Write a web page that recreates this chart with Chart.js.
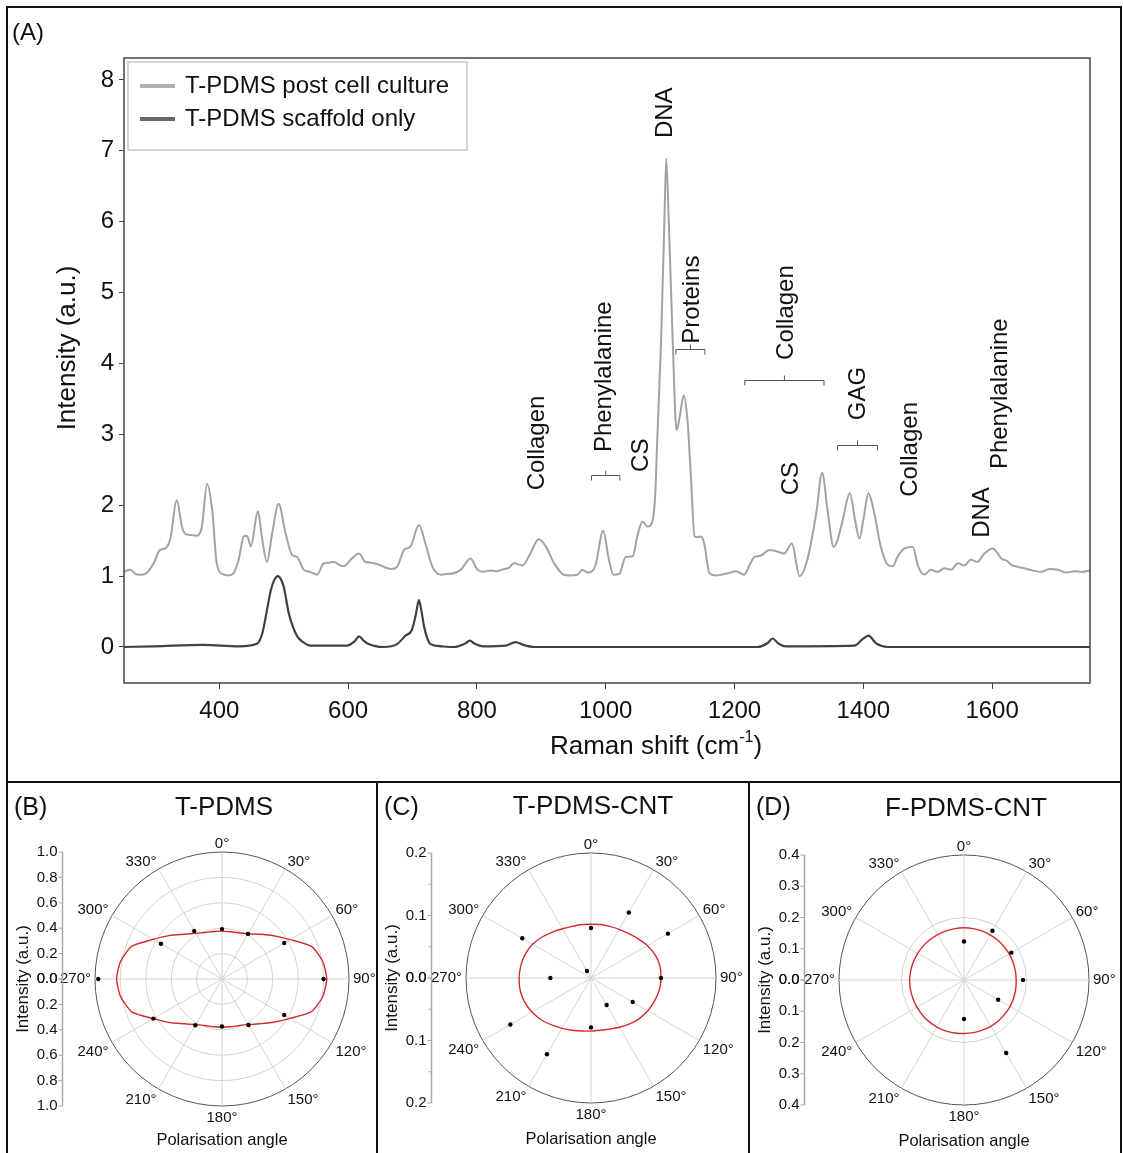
<!DOCTYPE html>
<html>
<head>
<meta charset="utf-8">
<title>Raman spectra and polarisation</title>
<script src="https://cdn.jsdelivr.net/npm/chart.js@4.4.1/dist/chart.umd.min.js"></script>
<style>
  body { margin: 0; background: #fff; }
  #page { position: relative; width: 1123px; height: 1153px; overflow: hidden; background: #fff; }
  canvas { position: absolute; }
  .rule { position: absolute; background: #111; }
</style>
</head>
<body>
<div id="page">
  <canvas id="ramanChart" width="1112" height="772" style="left:8px;top:9px"></canvas>
  <canvas id="polarB" width="367" height="369" style="left:9px;top:784px"></canvas>
  <canvas id="polarC" width="369" height="369" style="left:379px;top:784px"></canvas>
  <canvas id="polarD" width="370" height="369" style="left:751px;top:784px"></canvas>
  <div class="rule" style="left:6px;top:6px;width:1116px;height:2px"></div>
  <div class="rule" style="left:6px;top:6px;width:2px;height:1147px"></div>
  <div class="rule" style="left:1120px;top:6px;width:2px;height:1147px"></div>
  <div class="rule" style="left:6px;top:781px;width:1116px;height:2px"></div>
  <div class="rule" style="left:376px;top:781px;width:2px;height:372px"></div>
  <div class="rule" style="left:748px;top:781px;width:2px;height:372px"></div>
</div>
<script>
const FONT = "'Liberation Sans', Arial, Helvetica, sans-serif";
Chart.defaults.font.family = FONT;
Chart.defaults.color = '#111';

// (A) Raman spectra
const shiftCulture = [
  251, 262, 270, 277, 285, 298, 308, 316, 324, 334,
  342, 347, 356, 365, 373, 381, 389, 396, 407, 415,
  422, 430, 438, 443, 449, 460, 466, 474, 482, 492,
  503, 513, 521, 531, 541, 552, 562, 570, 578, 586,
  593, 606, 617, 627, 636, 645, 653, 661, 668, 676,
  687, 697, 710, 720, 731, 744, 754, 764, 775, 790,
  801, 811, 821, 831, 842, 850, 857, 871, 883, 896,
  907, 920, 935, 945, 956, 964, 972, 984, 996, 1005,
  1012, 1021, 1031, 1042, 1049, 1057, 1065, 1073, 1077, 1080,
  1086, 1091, 1094, 1098, 1104, 1110, 1115, 1121, 1127, 1132,
  1138, 1143, 1148, 1153, 1161, 1170, 1179, 1190, 1202, 1215,
  1223, 1231, 1241, 1254, 1265, 1277, 1289, 1301, 1313, 1327,
  1336, 1345, 1354, 1360, 1368, 1379, 1388, 1394, 1400, 1408,
  1417, 1426, 1438, 1446, 1453, 1464, 1477, 1485, 1495, 1505,
  1515, 1526, 1536, 1547, 1557, 1567, 1577, 1588, 1601, 1608,
  1614, 1622, 1630, 1640, 1650, 1663, 1676, 1689, 1702, 1715,
  1728, 1740, 1752
];
const intensityCulture = [
  1.06, 1.09, 1.03, 1.02, 1.03, 1.18, 1.37, 1.39, 1.53, 2.07,
  1.70, 1.60, 1.58, 1.57, 1.70, 2.30, 1.93, 1.18, 1.02, 1.01,
  1.04, 1.23, 1.56, 1.57, 1.42, 1.92, 1.56, 1.20, 1.60, 2.02,
  1.60, 1.30, 1.27, 1.09, 1.06, 1.02, 1.18, 1.19, 1.20, 1.16,
  1.14, 1.25, 1.32, 1.20, 1.19, 1.17, 1.14, 1.11, 1.10, 1.13,
  1.37, 1.42, 1.72, 1.46, 1.13, 1.02, 1.03, 1.04, 1.09, 1.25,
  1.09, 1.06, 1.08, 1.07, 1.10, 1.12, 1.18, 1.15, 1.32, 1.52,
  1.42, 1.18, 1.02, 1.01, 1.02, 1.09, 1.05, 1.15, 1.64, 1.23,
  1.02, 1.03, 1.27, 1.28, 1.56, 1.77, 1.70, 1.79, 2.17, 2.92,
  4.33, 5.98, 6.89, 5.98, 4.33, 3.06, 3.25, 3.55, 3.20, 2.45,
  1.56, 1.55, 1.56, 1.46, 1.04, 1.01, 1.02, 1.04, 1.07, 1.02,
  1.15, 1.27, 1.29, 1.37, 1.35, 1.32, 1.46, 1.00, 1.23, 1.89,
  2.46, 1.89, 1.41, 1.51, 1.79, 2.17, 1.75, 1.53, 1.79, 2.17,
  1.89, 1.46, 1.16, 1.14, 1.27, 1.39, 1.41, 1.14, 1.02, 1.09,
  1.06, 1.11, 1.09, 1.18, 1.15, 1.23, 1.20, 1.32, 1.39, 1.33,
  1.25, 1.22, 1.16, 1.13, 1.11, 1.08, 1.06, 1.10, 1.09, 1.05,
  1.07, 1.06, 1.08
];
const shiftScaffold = [
  251, 300, 375, 430, 459, 467, 474, 480, 485, 491,
  496, 500, 508, 515, 521, 530, 541, 598, 610, 617,
  624, 630, 655, 676, 689, 699, 705, 710, 714, 718,
  723, 728, 745, 764, 782, 789, 796, 810, 845, 860,
  872, 890, 1236, 1252, 1259, 1268, 1280, 1386, 1399, 1408,
  1420, 1438, 1752
];
const intensityScaffold = [
  0.00, 0.01, 0.03, 0.01, 0.05, 0.20, 0.52, 0.80, 0.94, 1.00,
  0.95, 0.85, 0.47, 0.27, 0.15, 0.07, 0.02, 0.02, 0.08, 0.15,
  0.09, 0.05, 0.00, 0.04, 0.16, 0.24, 0.45, 0.66, 0.50, 0.29,
  0.12, 0.04, 0.01, 0.00, 0.05, 0.09, 0.05, 0.01, 0.02, 0.07,
  0.03, 0.00, 0.00, 0.06, 0.12, 0.05, 0.01, 0.02, 0.11, 0.16,
  0.05, 0.00, 0.00
];
const xTicks = [400, 600, 800, 1000, 1200, 1400, 1600];
const yTicks = [0, 1, 2, 3, 4, 5, 6, 7, 8];

// peak assignments (label starts at shift / intensity)
const peakLabels = ['Collagen', 'Phenylalanine', 'CS', 'DNA', 'Proteins', 'Collagen', 'CS', 'GAG', 'Collagen', 'DNA', 'Phenylalanine'];
const peakShift = [894, 998.5, 1055, 1093, 1134, 1280, 1288, 1392, 1472.6, 1584.5, 1612.5];
const peakLevel = [2.21, 2.75, 2.47, 7.18, 4.28, 4.05, 2.14, 3.20, 2.12, 1.54, 2.51];
const bracketFrom = [978, 1109, 1216, 1360];
const bracketTo = [1022, 1154, 1339, 1422];
const bracketLevel = [2.43, 4.21, 3.77, 2.85];

// (B)-(D) polarisation plots, every 10 degrees
const angleLabels = [
  '0°', '10°', '20°', '30°', '40°', '50°', '60°', '70°', '80°',
  '90°', '100°', '110°', '120°', '130°', '140°', '150°', '160°', '170°',
  '180°', '190°', '200°', '210°', '220°', '230°', '240°', '250°', '260°',
  '270°', '280°', '290°', '300°', '310°', '320°', '330°', '340°', '350°'
];
const fitB = [
  0.377, 0.378, 0.387, 0.41, 0.46, 0.53, 0.62, 0.75, 0.805,
  0.825, 0.805, 0.75, 0.62, 0.53, 0.46, 0.415, 0.39, 0.382,
  0.38, 0.382, 0.39, 0.415, 0.46, 0.535, 0.625, 0.755, 0.81,
  0.83, 0.81, 0.755, 0.625, 0.535, 0.46, 0.415, 0.39, 0.38
];
const dotsB = [
  0.393, null, null, 0.41, null, null, 0.566, null, null,
  0.80, null, null, 0.566, null, null, 0.418, null, null,
  0.374, null, null, 0.42, null, null, 0.624, null, null,
  0.974, null, null, 0.555, null, null, 0.437, null, null
];
const fitC = [
  0.086, 0.087, 0.088, 0.090, 0.093, 0.098, 0.104, 0.109, 0.112,
  0.112, 0.111, 0.108, 0.105, 0.101, 0.096, 0.091, 0.087, 0.085,
  0.085, 0.086, 0.089, 0.093, 0.098, 0.104, 0.109, 0.113, 0.115,
  0.115, 0.114, 0.112, 0.108, 0.102, 0.096, 0.091, 0.088, 0.087
];
const dotsC = [
  0.080, null, null, 0.121, null, null, 0.142, null, null,
  0.112, null, null, 0.077, null, null, 0.050, null, null,
  0.079, null, null, 0.141, null, null, 0.149, null, null,
  0.065, null, null, 0.127, null, null, 0.013, null, null
];
const fitD = [
  0.167, 0.167, 0.167, 0.167, 0.167, 0.167, 0.167, 0.167, 0.167,
  0.167, 0.168, 0.169, 0.170, 0.170, 0.171, 0.171, 0.171, 0.171,
  0.171, 0.172, 0.173, 0.174, 0.174, 0.174, 0.174, 0.174, 0.174,
  0.174, 0.173, 0.172, 0.171, 0.170, 0.169, 0.168, 0.167, 0.167
];
const dotsD = [
  0.123, null, null, 0.182, null, null, 0.175, null, null,
  0.189, null, null, 0.126, null, null, 0.270, null, null,
  0.125, null, null, null, null, null, null, null, null,
  null, null, null, null, null, null, null, null, null
];
const sideTicksB = [0, 0.2, 0.4, 0.6, 0.8, 1.0];
const sideTicksC = [0, 0.1, 0.2];
const sideMinorC = [0.05, 0.15];
const sideTicksD = [0, 0.1, 0.2, 0.3, 0.4];

function points(xs, ys) {
  return xs.map((x, i) => ({ x: x, y: ys[i] }));
}

// frame, legend, peak labels and axis titles for panel A
const ramanDeco = {
  id: 'ramanDeco',
  afterDraw(chart) {
    const { ctx, chartArea: a, scales: { x, y } } = chart;
    ctx.save();
    ctx.strokeStyle = '#444';
    ctx.lineWidth = 1.5;
    ctx.strokeRect(a.left, a.top, a.width, a.height);

    // legend
    ctx.strokeStyle = '#d4d4d4';
    ctx.lineWidth = 2;
    ctx.strokeRect(a.left + 4, a.top + 4, 339, 88);
    ctx.font = '24px ' + FONT;
    ctx.textBaseline = 'middle';
    ctx.textAlign = 'left';
    ctx.fillStyle = '#111';
    chart.data.datasets.forEach((ds, i) => {
      const ly = a.top + 28 + i * 33;
      ctx.strokeStyle = ds.legendColor;
      ctx.lineWidth = 4;
      ctx.beginPath();
      ctx.moveTo(a.left + 16, ly);
      ctx.lineTo(a.left + 51, ly);
      ctx.stroke();
      ctx.fillText(ds.label, a.left + 61, ly);
    });

    // peak assignments
    peakLabels.forEach((t, i) => {
      ctx.save();
      ctx.translate(x.getPixelForValue(peakShift[i]), y.getPixelForValue(peakLevel[i]));
      ctx.rotate(-Math.PI / 2);
      ctx.fillText(t, 0, 0);
      ctx.restore();
    });
    ctx.strokeStyle = '#555';
    ctx.lineWidth = 1;
    bracketFrom.forEach((f, i) => {
      const x1 = x.getPixelForValue(f);
      const x2 = x.getPixelForValue(bracketTo[i]);
      const xm = (x1 + x2) / 2;
      const yb = Math.round(y.getPixelForValue(bracketLevel[i])) + 0.5;
      ctx.beginPath();
      ctx.moveTo(x1, yb + 5);
      ctx.lineTo(x1, yb);
      ctx.lineTo(x2, yb);
      ctx.lineTo(x2, yb + 5);
      ctx.moveTo(xm, yb);
      ctx.lineTo(xm, yb - 5);
      ctx.stroke();
    });

    // axis titles
    ctx.font = '26px ' + FONT;
    ctx.textAlign = 'center';
    ctx.save();
    ctx.translate(a.left - 56, a.top + 290);
    ctx.rotate(-Math.PI / 2);
    ctx.fillText('Intensity (a.u.)', 0, 0);
    ctx.restore();

    const main = 'Raman shift (cm', sup = '-1', end = ')';
    ctx.font = '26px ' + FONT;
    const w1 = ctx.measureText(main).width, w3 = ctx.measureText(end).width;
    ctx.font = '16px ' + FONT;
    const w2 = ctx.measureText(sup).width;
    let tx = a.left + 532 - (w1 + w2 + w3) / 2;
    const ty = a.bottom + 64;
    ctx.textAlign = 'left';
    ctx.font = '26px ' + FONT;
    ctx.fillText(main, tx, ty);
    tx += w1;
    ctx.font = '16px ' + FONT;
    ctx.fillText(sup, tx, ty - 9);
    tx += w2;
    ctx.font = '26px ' + FONT;
    ctx.fillText(end, tx, ty);

    ctx.font = '24px ' + FONT;
    ctx.fillText('(A)', 4, 24);
    ctx.restore();
  }
};

new Chart(document.getElementById('ramanChart'), {
  type: 'line',
  data: {
    datasets: [
      { label: 'T-PDMS post cell culture', data: points(shiftCulture, intensityCulture),
        borderColor: '#a2a2a2', legendColor: '#b0b0b0', borderWidth: 2 },
      { label: 'T-PDMS scaffold only', data: points(shiftScaffold, intensityScaffold),
        borderColor: '#404040', legendColor: '#666', borderWidth: 2.2 }
    ]
  },
  options: {
    responsive: false,
    animation: false,
    events: [],
    layout: { padding: { left: 0, top: 49, right: 30, bottom: 0 } },
    elements: { point: { radius: 0 }, line: { cubicInterpolationMode: 'monotone' } },
    plugins: { legend: { display: false }, tooltip: { enabled: false } },
    scales: {
      x: {
        type: 'linear', min: 252, max: 1752,
        afterBuildTicks: s => { s.ticks = xTicks.map(v => ({ value: v })); },
        afterFit: s => { s.height = 98; },
        grid: { drawOnChartArea: false, tickLength: 6, color: '#444' },
        border: { display: false },
        ticks: { font: { size: 24 }, color: '#111', padding: 8, maxRotation: 0, callback: v => v }
      },
      y: {
        min: -0.508, max: 8.31,
        afterBuildTicks: s => { s.ticks = yTicks.map(v => ({ value: v })); },
        afterFit: s => { s.width = 116; },
        grid: { drawOnChartArea: false, tickLength: 5, color: '#444' },
        border: { display: false },
        ticks: { font: { size: 24 }, color: '#111', padding: 5, callback: v => v }
      }
    }
  },
  plugins: [ramanDeco]
});

// angle labels, side intensity axis and titles for the polar panels
const polarDeco = {
  id: 'polarDeco',
  afterDraw(chart, args, o) {
    const ctx = chart.ctx;
    const s = chart.scales.r;
    const cx = s.xCenter, cy = s.yCenter, R = s.drawingArea;
    const n = chart.data.labels.length;
    ctx.save();
    ctx.fillStyle = '#111';
    ctx.font = '15px ' + FONT;
    chart.data.labels.forEach((lab, i) => {
      const deg = i * 360 / n;
      if (deg % 30) return;
      const p = s.getPointPosition(i, R + 4);
      ctx.textAlign = deg === 0 || deg === 180 ? 'center' : deg < 180 ? 'left' : 'right';
      ctx.textBaseline = deg === 90 || deg === 270 ? 'middle' : (deg > 90 && deg < 270 ? 'top' : 'alphabetic');
      ctx.fillText(lab, p.x, p.y);
    });

    const ax = Math.round(cx - 160) + 0.5;
    ctx.strokeStyle = '#a8a8a8';
    ctx.lineWidth = 1.5;
    ctx.beginPath();
    ctx.moveTo(ax, cy - R);
    ctx.lineTo(ax, cy + R);
    ctx.stroke();
    ctx.lineWidth = 1;
    ctx.textAlign = 'right';
    ctx.textBaseline = 'middle';
    o.major.forEach(v => {
      const d = s.getDistanceFromCenterForValue(v);
      [-1, 1].forEach(sg => {
        const ty = cy + sg * d;
        ctx.beginPath();
        ctx.moveTo(ax - 4, ty);
        ctx.lineTo(ax, ty);
        ctx.stroke();
        ctx.fillText(v.toFixed(1), ax - 5, ty);
      });
    });
    o.minor.forEach(v => {
      const d = s.getDistanceFromCenterForValue(v);
      [-1, 1].forEach(sg => {
        ctx.beginPath();
        ctx.moveTo(ax - 3, cy + sg * d);
        ctx.lineTo(ax, cy + sg * d);
        ctx.stroke();
      });
    });

    ctx.textAlign = 'center';
    ctx.font = '26px ' + FONT;
    ctx.fillText(o.title, cx + 2, cy - 171);
    ctx.font = '16.5px ' + FONT;
    ctx.fillText('Polarisation angle', cx, cy + 161);
    ctx.save();
    ctx.translate(cx - 199, cy);
    ctx.rotate(-Math.PI / 2);
    ctx.font = '17px ' + FONT;
    ctx.fillText('Intensity (a.u.)', 0, 0);
    ctx.restore();
    ctx.textAlign = 'left';
    ctx.font = '25px ' + FONT;
    ctx.fillText(o.letter, 5, 24);
    ctx.restore();
  }
};

function polarChart(id, fit, dots, rMax, padding, deco) {
  return new Chart(document.getElementById(id), {
    type: 'radar',
    data: {
      labels: angleLabels,
      datasets: [
        { label: 'measured', data: dots, showLine: false, pointRadius: 2.2,
          pointBackgroundColor: '#000', pointBorderWidth: 0 },
        { label: 'fit', data: fit, borderColor: '#d42b2b', borderWidth: 1.4,
          pointRadius: 0, fill: false, tension: 0.2 }
      ]
    },
    options: {
      responsive: false,
      animation: false,
      events: [],
      layout: { padding: padding },
      plugins: { legend: { display: false }, tooltip: { enabled: false }, polarDeco: deco },
      scales: {
        r: {
          min: 0, max: rMax,
          ticks: { display: false, stepSize: 0.2 },
          pointLabels: { display: false },
          grid: { circular: true, lineWidth: 1,
            color: c => (c.tick && c.tick.value > rMax - 1e-6) ? '#555' : '#d2d2d2' },
          angleLines: { lineWidth: 1,
            color: c => c.index % 3 === 0 ? '#d2d2d2' : 'rgba(0,0,0,0)' }
        }
      }
    },
    plugins: [polarDeco]
  });
}

polarChart('polarB', fitB, dotsB, 1.0, { left: 86, top: 68, right: 27, bottom: 47 },
  { title: 'T-PDMS', letter: '(B)', major: sideTicksB, minor: [] });
polarChart('polarC', fitC, dotsC, 0.2, { left: 87, top: 69, right: 32, bottom: 50 },
  { title: 'T-PDMS-CNT', letter: '(C)', major: sideTicksC, minor: sideMinorC });
polarChart('polarD', fitD, dotsD, 0.4, { left: 88, top: 71, right: 32, bottom: 48 },
  { title: 'F-PDMS-CNT', letter: '(D)', major: sideTicksD, minor: [] });
</script>
</body>
</html>
